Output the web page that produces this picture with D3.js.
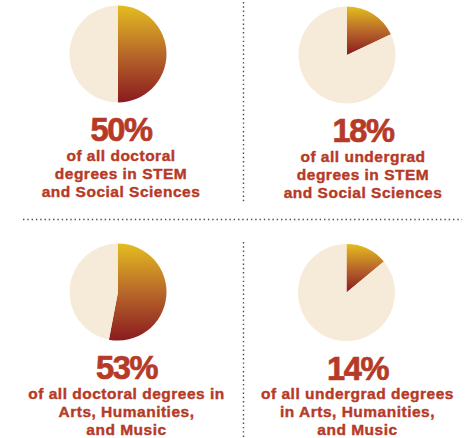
<!DOCTYPE html>
<html>
<head>
<meta charset="utf-8">
<script src="https://cdn.jsdelivr.net/npm/d3@7"></script>
<style>
  html, body { margin: 0; padding: 0; background: #fff; }
  svg { display: block; }
  .big { font-family: "Liberation Sans", Arial, sans-serif; font-weight: bold; }
  .cap { font-family: "Liberation Sans", Arial, sans-serif; font-weight: bold; }
</style>
</head>
<body>
<svg id="chart" width="474" height="438"></svg>
<script>
// share of degrees, one pie per panel (TL, TR, BL, BR)
var percents = [50, 18, 53, 14];
var captions = [
    ["of all doctoral", "degrees in STEM", "and Social Sciences"],
    ["of all undergrad", "degrees in STEM", "and Social Sciences"],
    ["of all doctoral degrees in", "Arts, Humanities,", "and Music"],
    ["of all undergrad degrees", "in Arts, Humanities,", "and Music"]
];

var width = 474, height = 438;
var radius = 48.5;
var textRed = "#b63a27", beige = "#f6ebd9";

// panel layout: pie centre and caption centre
var layout = [
    {cx: 118, cy: 54, tx: 121},
    {cx: 347, cy: 55, tx: 363},
    {cx: 118, cy: 292, tx: 126.5},
    {cx: 346.5, cy: 292.5, tx: 357.5}
];

var svg = d3.select("#chart");

// gradient runs top -> bottom of each slice's own box
var grad = svg.append("defs").append("linearGradient")
    .attr("id", "sliceGrad")
    .attr("x1", 0).attr("y1", 0).attr("x2", 0).attr("y2", 1);
grad.append("stop").attr("offset", "0%").attr("stop-color", "#e4bd1f");
grad.append("stop").attr("offset", "50%").attr("stop-color", "#b8682a");
grad.append("stop").attr("offset", "100%").attr("stop-color", "#8a1a1f");

// dotted dividers
var dots = svg.append("g")
    .attr("stroke", "#4d4d4d")
    .attr("stroke-width", 1.4)
    .attr("stroke-dasharray", "1.4,2.9");
dots.append("line").attr("x1", 23).attr("x2", 462).attr("y1", 219.5).attr("y2", 219.5);
dots.append("line").attr("x1", 243.5).attr("x2", 243.5).attr("y1", 2).attr("y2", 202);
dots.append("line").attr("x1", 243.5).attr("x2", 243.5).attr("y1", 242).attr("y2", height);

var pie = d3.pie().sort(null).value(function(d) { return d; });
var arc = d3.arc().innerRadius(0).outerRadius(radius);

var panels = svg.selectAll(".panel")
    .data(percents)
    .enter()
    .append("g")
    .attr("class", "panel");

panels.each(function(p, i) {
    var g = d3.select(this);
    var L = layout[i];

    g.append("g")
        .attr("transform", "translate(" + L.cx + "," + L.cy + ")")
        .selectAll("path")
        .data(pie([p, 100 - p]))
        .enter()
        .append("path")
        .attr("d", arc)
        .attr("fill", function(d, j) { return j === 0 ? "url(#sliceGrad)" : beige; });

    g.append("text")
        .attr("class", "big")
        .attr("x", L.tx)
        .attr("y", L.cy + 87)
        .attr("text-anchor", "middle")
        .attr("font-size", 32.6)
        .attr("letter-spacing", -1.4)
        .attr("fill", textRed)
        .attr("stroke", textRed)
        .attr("stroke-width", 0.7)
        .text(p + "%");

    g.append("g")
        .selectAll("text")
        .data(captions[i])
        .enter()
        .append("text")
        .attr("class", "cap")
        .attr("x", L.tx)
        .attr("y", function(d, k) { return L.cy + 106.5 + k * 18; })
        .attr("text-anchor", "middle")
        .attr("font-size", 15.5)
        .attr("letter-spacing", 0.5)
        .attr("fill", textRed)
        .attr("stroke", textRed)
        .attr("stroke-width", 0.4)
        .text(function(d) { return d; });
});
</script>
</body>
</html>
